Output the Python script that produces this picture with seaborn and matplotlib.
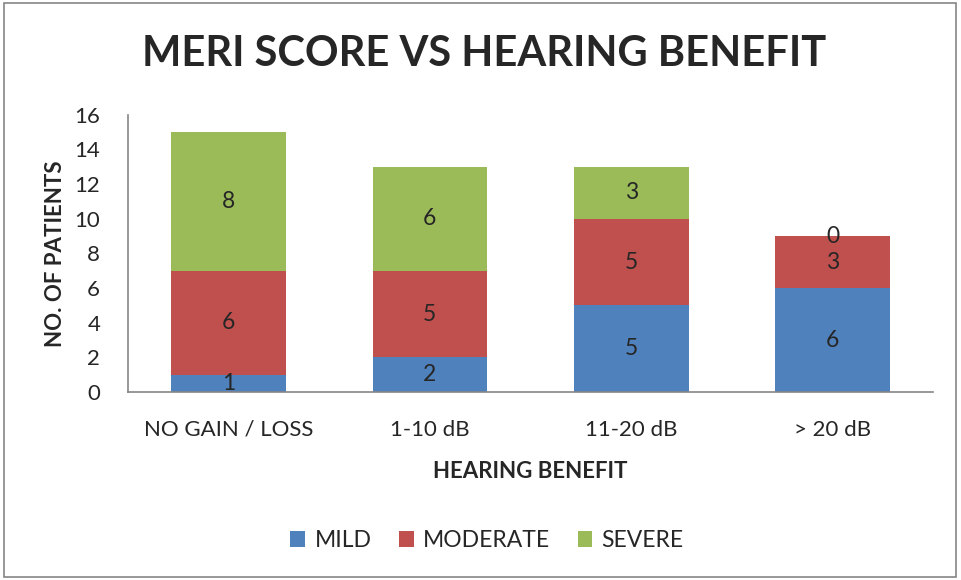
import numpy as np
import pandas as pd
import seaborn as sns
import matplotlib.pyplot as plt
from matplotlib.patches import Rectangle

categories = ['NO GAIN / LOSS', '1-10 dB', '11-20 dB', '> 20 dB']
mild = [1, 2, 5, 6]
moderate = [6, 5, 5, 3]
severe = [8, 6, 3, 0]
series = ['MILD', 'MODERATE', 'SEVERE']
colors = ['#4F81BD', '#C0504D', '#9BBB59']

sns.set_style('white')
plt.rcParams['font.family'] = ['Lato', 'DejaVu Sans']

fig = plt.figure(figsize=(9.62, 5.8), dpi=100)
ax = fig.add_axes([0.133, 0.324, 0.837, 0.478])

bottom = np.zeros(len(categories))
for name, vals, col in zip(series, [mild, moderate, severe], colors):
    sns.barplot(x=categories, y=vals, bottom=bottom, color=col, width=0.57,
                label=name, ax=ax, saturation=1, edgecolor='none')
    bottom = bottom + np.array(vals)

for cont in ax.containers:
    ax.bar_label(cont, label_type='center', fontsize=16.5)

ax.set_ylim(0, 16)
ax.set_yticks(range(0, 17, 2))
ax.set_xlim(-0.5, 3.5)
ax.tick_params(axis='both', length=0, labelsize=16)
ax.tick_params(axis='y', pad=20)
ax.tick_params(axis='x', pad=20)
for s in ['top', 'right']:
    ax.spines[s].set_visible(False)
for s in ['left', 'bottom']:
    ax.spines[s].set_color('#868686')
    ax.spines[s].set_linewidth(1.2)

ax.set_ylabel('NO. OF PATIENTS', fontsize=16, fontweight='bold', labelpad=6)
ax.set_xlabel('HEARING BENEFIT', fontsize=16, fontweight='bold', labelpad=15)
fig.suptitle('MERI SCORE VS HEARING BENEFIT', fontsize=30, fontweight='bold',
             x=0.503, y=0.94)

ax.legend(loc='center', bbox_to_anchor=(0.446, -0.535), ncol=3, frameon=False,
          fontsize=16.5, handlelength=0.65, handleheight=0.65, columnspacing=1.2,
          handletextpad=0.4)

fig.patches.append(Rectangle((0.004, 0.005), 0.99, 0.99, transform=fig.transFigure,
                             fill=False, edgecolor='#868686', linewidth=1.2))

fig.savefig('out.png', dpi=100)
